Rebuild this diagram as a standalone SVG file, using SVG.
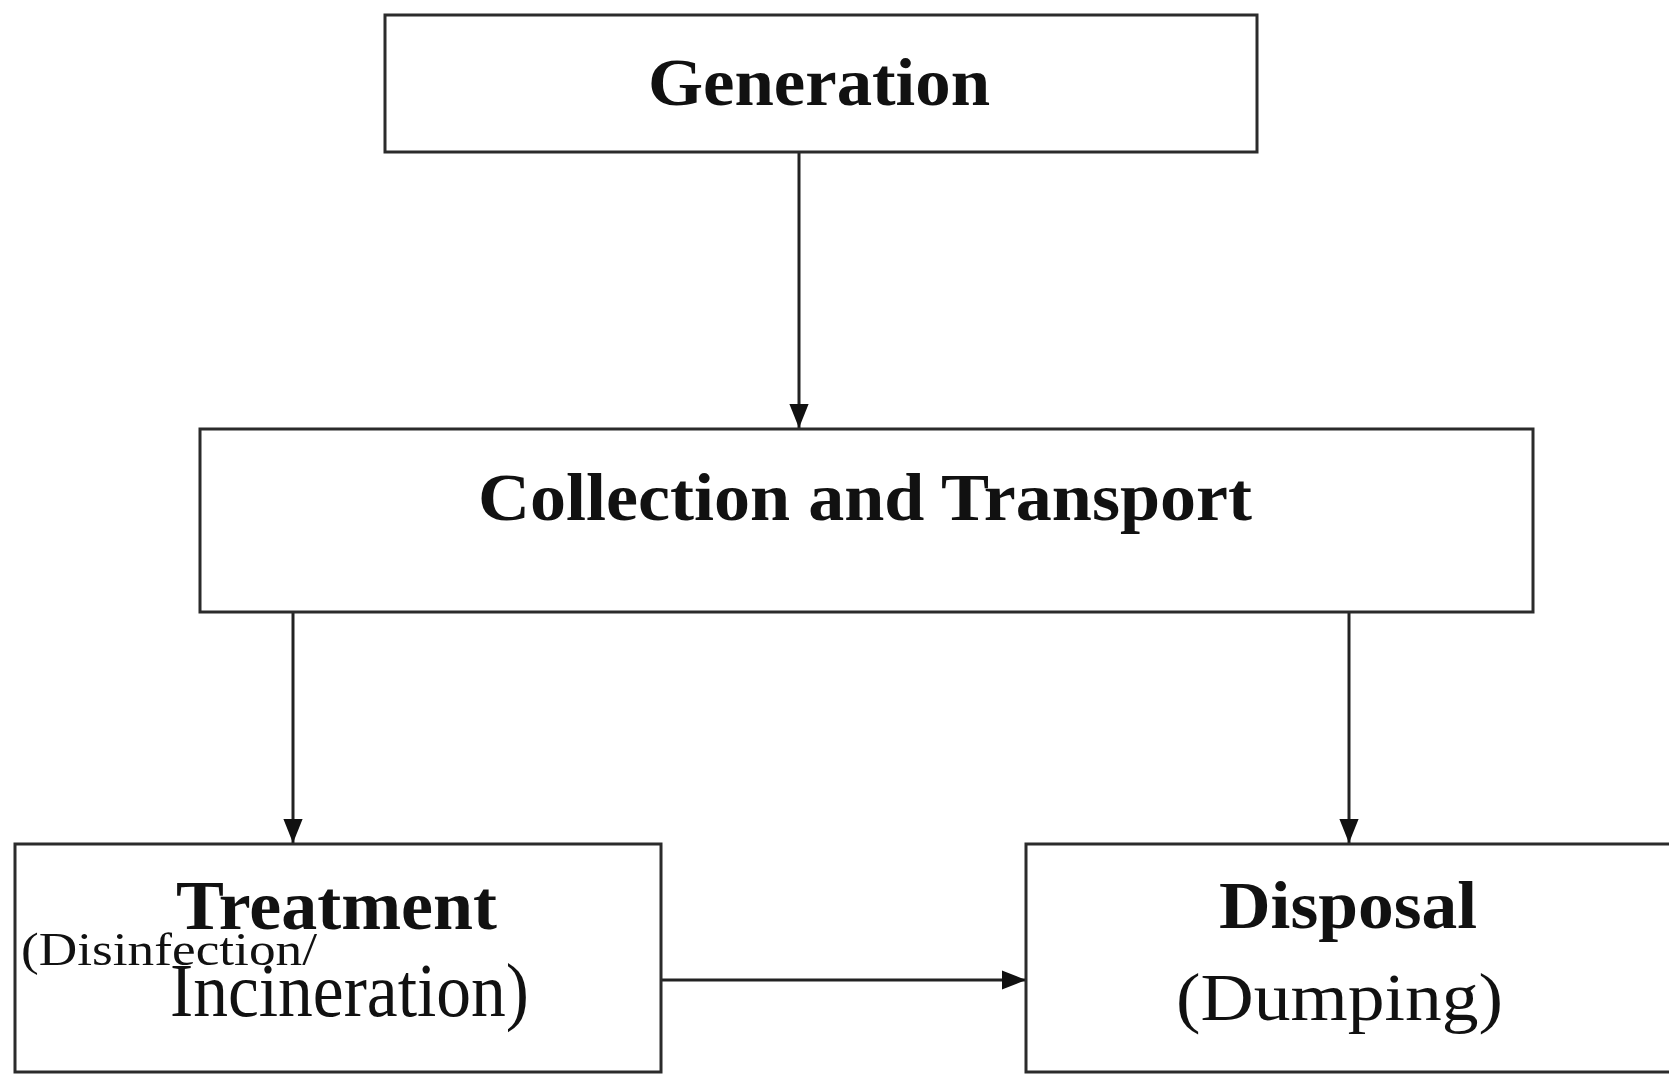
<svg xmlns="http://www.w3.org/2000/svg" width="1669" height="1077" viewBox="0 0 1669 1077">
<style>
.box{fill:#fff;stroke:#2b2b2b;stroke-width:3}
.edge{fill:none;stroke:#222;stroke-width:3}
.b{font-family:"Liberation Serif","Times New Roman",serif;font-weight:bold;fill:#111}
.r{font-family:"Liberation Serif","Times New Roman",serif;fill:#111}
</style>
<defs>
<marker id="ah" markerUnits="userSpaceOnUse" markerWidth="24" markerHeight="30" refX="30" refY="12" orient="auto" viewBox="0 0 30 24">
<path d="M0,0 L30,12 L0,24 Z" fill="#111"/>
</marker>
</defs>
<rect width="1669" height="1077" fill="#fff"/>
<g id="connectors">
<line class="edge" x1="799" y1="152" x2="799" y2="428" marker-end="url(#ah)"/>
<line class="edge" x1="293" y1="612" x2="293" y2="843" marker-end="url(#ah)"/>
<line class="edge" x1="1349" y1="612" x2="1349" y2="843" marker-end="url(#ah)"/>
<line class="edge" x1="661" y1="980" x2="1026" y2="980" marker-end="url(#ah)"/>
</g>
<g id="generation">
<rect class="box" x="385" y="15" width="872" height="137"/>
<text class="b" x="648" y="105" font-size="68" textLength="342" lengthAdjust="spacingAndGlyphs">Generation</text>
</g>
<g id="collection">
<rect class="box" x="200" y="429" width="1333" height="183"/>
<text class="b" x="478" y="520" font-size="68" textLength="774" lengthAdjust="spacingAndGlyphs">Collection and Transport</text>
</g>
<g id="treatment">
<rect class="box" x="15" y="844" width="646" height="228"/>
<text class="b" x="176" y="929" font-size="70" textLength="321" lengthAdjust="spacingAndGlyphs">Treatment</text>
<text class="r" x="21" y="965" font-size="46" textLength="296" lengthAdjust="spacingAndGlyphs">(Disinfection/</text>
<text class="r" x="170" y="1016" font-size="76" textLength="359" lengthAdjust="spacingAndGlyphs">Incineration)</text>
</g>
<g id="disposal">
<rect class="box" x="1026" y="844" width="645" height="228"/>
<text class="b" x="1219" y="928" font-size="68" textLength="258" lengthAdjust="spacingAndGlyphs">Disposal</text>
<text class="r" x="1176" y="1020" font-size="68" textLength="327" lengthAdjust="spacingAndGlyphs">(Dumping)</text>
</g>
</svg>
